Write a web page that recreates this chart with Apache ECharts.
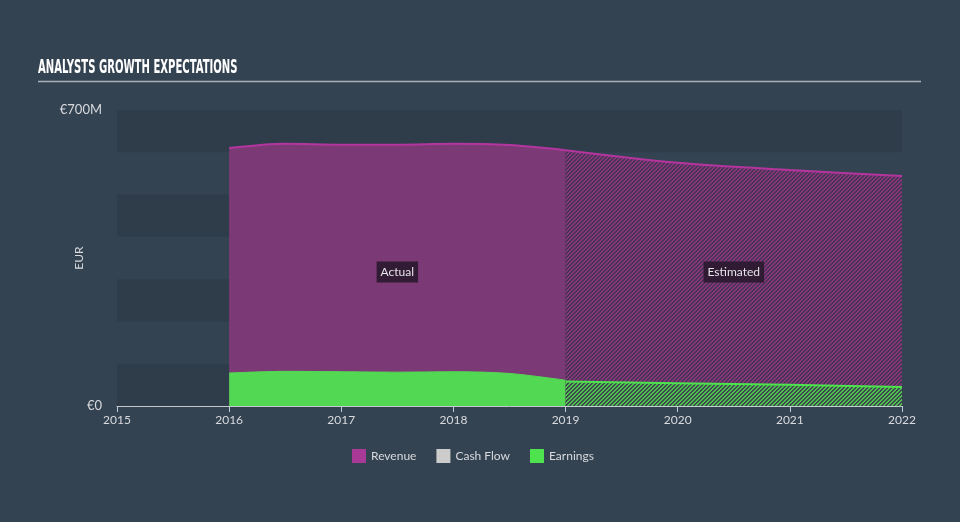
<!DOCTYPE html>
<html>
<head>
<meta charset="utf-8">
<script src="https://cdn.jsdelivr.net/npm/echarts@6/dist/echarts.min.js"></script>
<style>
html,body{margin:0;padding:0;background:#344352;}
#c{width:960px;height:522px;}
</style>
</head>
<body>
<div id="c"></div>
<script>
// ---- data ----
const xTicks = [2015, 2016, 2017, 2018, 2019, 2020, 2021, 2022];
const yTickLabels = { 0: '€0', 700: '€700M' };
const actualX = [2016, 2016.5, 2017, 2017.5, 2018, 2018.5, 2019];
const revenueActual = [610, 620, 618, 618, 620, 617, 605];
const earningsActual = [78, 82, 81, 80, 81, 77, 61];
const estimateX = [2019, 2020, 2021, 2022];
const revenueEstimate = [605, 575, 558, 544];
const earningsEstimate = [58, 54, 50, 45];
const legendNames = ['Revenue', 'Cash Flow', 'Earnings'];

function pairs(xs, ys) { return xs.map((x, i) => [x, ys[i]]); }

function stripes(c1, c2) {
  const s = 4;
  const cv = document.createElement('canvas');
  cv.width = s; cv.height = s;
  const ctx = cv.getContext('2d');
  for (let x = 0; x < s; x++) {
    for (let y = 0; y < s; y++) {
      ctx.fillStyle = ((x + y) % 4 < 2) ? c1 : c2;
      ctx.fillRect(x, y, 1, 1);
    }
  }
  return { image: cv, repeat: 'repeat' };
}

const chart = echarts.init(document.getElementById('c'), null, { renderer: 'canvas' });
const revColor = '#a83997', revLine = '#b5359f', revFill = '#7b3a75';
const earnColor = '#4fe24f', earnFill = '#53d853';

const option = {
  backgroundColor: '#344352',
  animation: false,
  grid: { left: 117, right: 58, top: 110, bottom: 116, containLabel: false },
  legend: {
    left: 347, top: 444,
    icon: 'rect', itemWidth: 14, itemHeight: 14, itemGap: 20,
    textStyle: { color: '#d8dade', fontSize: 12, fontFamily: 'Lato, sans-serif' },
    selectedMode: false,
    data: [
      { name: legendNames[0], itemStyle: { color: revColor } },
      { name: legendNames[1], itemStyle: { color: '#cccccc' } },
      { name: legendNames[2], itemStyle: { color: earnColor } }
    ]
  },
  xAxis: {
    type: 'value', min: xTicks[0], max: xTicks[xTicks.length - 1], interval: 1,
    axisLine: { show: true, lineStyle: { color: '#c4c9d0', width: 1 } },
    axisTick: { show: true, length: 6, lineStyle: { color: '#c4c9d0' } },
    axisLabel: { color: '#d8dade', fontSize: 12, margin: 8, fontFamily: 'Lato, sans-serif', formatter: v => String(v) },
    splitLine: { show: false }
  },
  yAxis: {
    type: 'value', min: 0, max: 700, interval: 100,
    name: 'EUR', nameLocation: 'middle', nameGap: 32, nameMoveOverlap: false,
    nameTextStyle: { color: '#d8dade', fontSize: 12, fontFamily: 'Lato, sans-serif' },
    axisLine: { show: false }, axisTick: { show: false },
    axisLabel: { color: '#d8dade', fontSize: 13, margin: 15, fontFamily: 'Lato, sans-serif',
      formatter: v => (yTickLabels[v] !== undefined ? yTickLabels[v] : '') },
    splitLine: { show: false },
    splitArea: { show: true, areaStyle: { color: ['#2f3d4b', 'rgba(0,0,0,0)'] } }
  },
  series: [
    {
      name: 'Revenue', type: 'line', data: pairs(actualX, revenueActual),
      smooth: 0.3, showSymbol: false, silent: true, z: 2,
      itemStyle: { color: revColor },
      lineStyle: { color: revLine, width: 2 },
      areaStyle: { color: revFill, opacity: 1 }
    },
    {
      name: 'Revenue', type: 'line', data: pairs(estimateX, revenueEstimate),
      smooth: 0.3, showSymbol: false, silent: true, z: 2,
      itemStyle: { color: revColor },
      lineStyle: { color: revLine, width: 2 },
      areaStyle: { color: stripes('#85367c', '#4a3454'), opacity: 1 }
    },
    { name: 'Cash Flow', type: 'line', data: [], itemStyle: { color: '#cccccc' } },
    {
      name: 'Earnings', type: 'line', data: pairs(actualX, earningsActual),
      smooth: 0.3, showSymbol: false, silent: true, z: 3,
      itemStyle: { color: earnColor },
      lineStyle: { color: earnFill, width: 1 },
      areaStyle: { color: earnFill, opacity: 1 }
    },
    {
      name: 'Earnings', type: 'line', data: pairs(estimateX, earningsEstimate),
      smooth: 0.3, showSymbol: false, silent: true, z: 3,
      itemStyle: { color: earnColor },
      lineStyle: { color: earnColor, width: 2 },
      areaStyle: { color: stripes('#4fbf4f', '#3c4a4e'), opacity: 1 }
    }
  ]
};
chart.setOption(option);

// title, underline and period labels
const pA = chart.convertToPixel({ gridIndex: 0 }, [(actualX[0] + actualX[actualX.length - 1]) / 2, 317]);
const pE = chart.convertToPixel({ gridIndex: 0 }, [(estimateX[0] + estimateX[estimateX.length - 1]) / 2, 317]);
function tag(txt, p) {
  return {
    type: 'text', x: p[0], y: p[1], z: 10, silent: true,
    style: {
      text: txt, fill: '#e4e4e8', fontSize: 12, fontFamily: 'Lato, sans-serif',
      align: 'center', verticalAlign: 'middle',
      backgroundColor: 'rgba(38,22,42,0.85)', padding: [5, 4, 4, 4]
    }
  };
}
chart.setOption({
  graphic: [
    {
      type: 'text', x: 38, y: 58, scaleX: 0.56, silent: true,
      style: { text: 'ANALYSTS GROWTH EXPECTATIONS', fill: '#ffffff',
        fontSize: 20, fontWeight: 'bold', fontFamily: '"DejaVu Sans Condensed", sans-serif' }
    },
    { type: 'line', silent: true, shape: { x1: 38, y1: 81.5, x2: 921, y2: 81.5 },
      style: { stroke: '#aab0b8', lineWidth: 1.5 } },
    tag('Actual', pA),
    tag('Estimated', pE)
  ]
});
</script>
</body>
</html>
